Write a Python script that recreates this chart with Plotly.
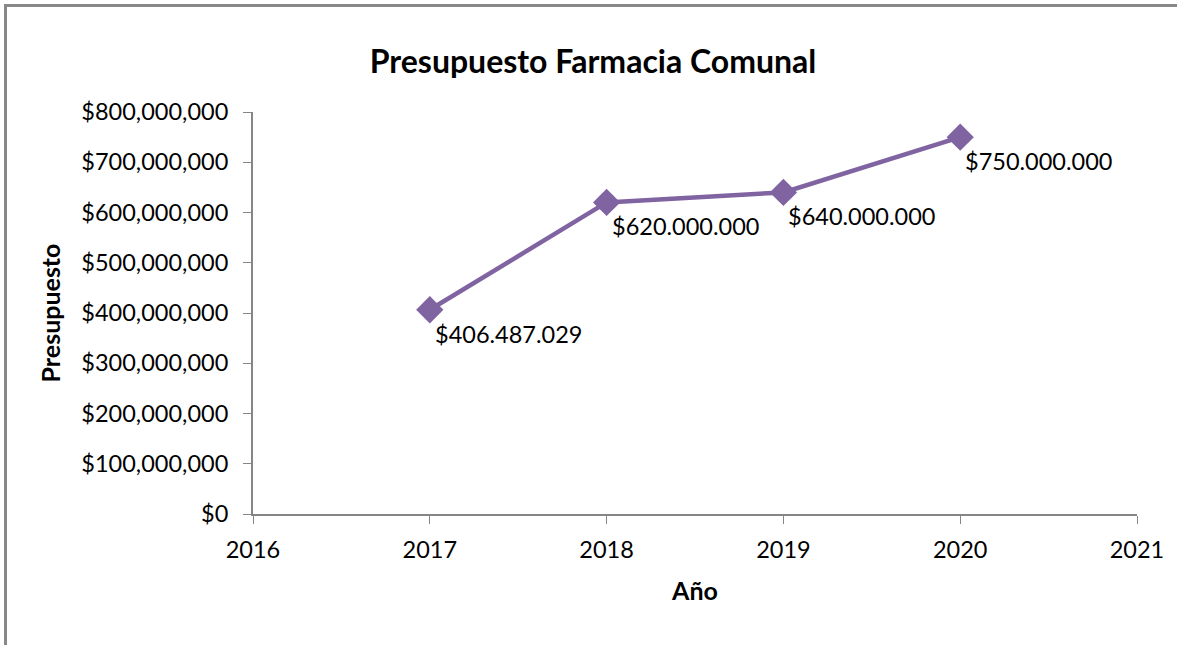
import plotly.graph_objects as go

years = [2017, 2018, 2019, 2020]
budget = [406487029, 620000000, 640000000, 750000000]
y_ticks = [0, 100000000, 200000000, 300000000, 400000000, 500000000, 600000000, 700000000, 800000000]
x_ticks = [2016, 2017, 2018, 2019, 2020, 2021]

FONT = "Lato, Open Sans, sans-serif"
PURPLE = "#8064A2"
AXIS = "#868686"
W, H = 1177, 645
L, R, T, B = 253, 40, 112, 131
PW, PH = W - L - R, H - T - B


def fmt_label(v):
    return "$" + f"{v:,}".replace(",", ".")


def px_x(p):
    return (p - L) / PW


def px_y(p):
    return 1 + (T - p) / PH


fig = go.Figure()
fig.add_trace(go.Scatter(
    x=years, y=budget, mode="lines+markers",
    line=dict(color=PURPLE, width=4.5),
    marker=dict(symbol="diamond", size=21, color=PURPLE),
    hoverinfo="skip", showlegend=False,
))

for x, v in zip(years, budget):
    fig.add_annotation(x=x, y=v, text=fmt_label(v), showarrow=False,
                       xanchor="left", yanchor="middle", xshift=3, yshift=-24,
                       font=dict(family=FONT, size=23.5, color="#000000"))

border = dict(color="#888888", width=3)
fig.update_layout(
    width=W, height=H,
    paper_bgcolor="white", plot_bgcolor="white",
    margin=dict(l=L, r=R, t=T, b=B),
    title=dict(text="<b>Presupuesto Farmacia Comunal</b>", x=593 / W, xanchor="center",
               y=1 - 62 / H, yanchor="middle", font=dict(family=FONT, size=32, color="#000000")),
    font=dict(family=FONT, color="#000000"),
    shapes=[
        dict(type="path", xref="paper", yref="paper",
             path=f"M {px_x(5.5)},{px_y(H + 10)} L {px_x(5.5)},{px_y(5.5)} L {px_x(W + 10)},{px_y(5.5)}",
             line=border),
    ],
)

fig.update_xaxes(range=[2016, 2021], tickvals=x_ticks, ticktext=[str(t) for t in x_ticks],
                 showgrid=False, zeroline=False, showline=True, linecolor=AXIS, linewidth=2,
                 ticks="outside", ticklen=8, tickcolor=AXIS, tickwidth=1, ticklabelstandoff=6,
                 tickfont=dict(family=FONT, size=23.5, color="#000000"),
                 title=dict(text="<b>Año</b>", font=dict(family=FONT, size=25, color="#000000"), standoff=20))
fig.update_yaxes(range=[0, 800000000], tickvals=y_ticks,
                 ticktext=["$" + f"{t:,}" for t in y_ticks],
                 showgrid=False, zeroline=False, showline=True, linecolor=AXIS, linewidth=2,
                 ticks="outside", ticklen=8, tickcolor=AXIS, tickwidth=1, ticklabelstandoff=10,
                 tickfont=dict(family=FONT, size=23.5, color="#000000"),
                 title=dict(text="<b>Presupuesto</b>", font=dict(family=FONT, size=25, color="#000000"), standoff=14))

fig.write_html("out.html", config={"displayModeBar": False},
               post_script="document.body.style.margin='0';document.body.style.padding='0';"
                           "document.body.style.overflow='hidden';"
                           "document.documentElement.style.overflow='hidden';")
